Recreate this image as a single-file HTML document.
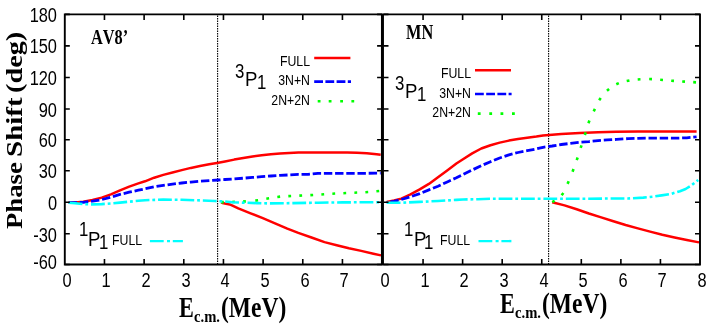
<!DOCTYPE html>
<html><head><meta charset="utf-8"><title>Phase Shift</title>
<style>html,body{margin:0;padding:0;background:#fff;}
#c{position:relative;width:708px;height:327px;overflow:hidden;background:#fff;}
#c svg{position:absolute;left:0;top:0;display:block;}
.t{position:absolute;white-space:nowrap;line-height:1;color:#000;font-kerning:none;font-variant-ligatures:none;}
#tx{position:absolute;left:0;top:0;width:708px;height:327px;filter:grayscale(1);}
.sa{font-family:"Liberation Sans",sans-serif;}
.se{font-family:"Liberation Serif",serif;font-weight:bold;}</style></head>
<body><div id="c"><svg width="708" height="327" viewBox="0 0 708 327"><path d="M217.6,15.4V264.5 M548.6,15.4V264.5" stroke="#000" stroke-width="1.1" stroke-dasharray="1.5 1.0" fill="none"/>
<path d="M68.7,202.6 L75.0,202.4 L83.3,201.8 L92.5,200.0 L101.7,197.6 L110.9,194.4 L120.0,190.4 L129.2,186.6 L138.4,183.4 L145.0,181.3 L154.2,177.7 L163.3,174.9 L172.5,172.5 L181.7,170.1 L190.9,167.9 L200.0,166.1 L209.2,164.3 L218.4,162.8 L225.0,161.5 L234.2,159.6 L243.3,158.0 L252.5,156.5 L261.7,155.2 L270.9,154.3 L280.0,153.6 L289.2,153.0 L298.4,152.6 L308.1,152.5 L317.9,152.5 L327.6,152.5 L337.4,152.5 L347.2,152.5 L357.0,152.8 L366.8,153.2 L376.6,154.2 L380.7,154.7" fill="none" stroke="#ff0000" stroke-width="2.5" stroke-linejoin="round"/>
<path d="M221.0,202.4 L222.4,202.9 L229.8,204.4 L238.3,208.4 L250.6,213.3 L262.8,218.2 L275.0,223.4 L287.3,228.6 L298.3,232.9 L312.2,237.8 L324.5,242.1 L336.7,245.2 L348.9,248.2 L361.2,250.9 L373.4,253.7 L381.0,255.4" fill="none" stroke="#ff0000" stroke-width="2.5" stroke-linejoin="round"/>
<path d="M386.7,201.9 L394.0,200.5 L401.3,198.6 L410.5,194.4 L419.7,189.4 L428.9,183.9 L438.0,177.2 L447.2,170.4 L456.4,163.5 L463.0,159.2 L472.2,153.4 L481.3,148.5 L490.5,145.2 L499.7,142.6 L508.9,140.6 L518.0,138.9 L527.2,137.7 L536.4,136.6 L543.0,135.5 L561.3,133.9 L579.7,132.9 L598.0,132.2 L616.4,131.7 L637.9,131.4 L662.3,131.4 L696.6,131.4" fill="none" stroke="#ff0000" stroke-width="2.5" stroke-linejoin="round"/>
<path d="M552.2,202.2 L564.5,205.4 L576.7,209.3 L588.9,213.5 L601.2,217.4 L613.4,221.3 L625.6,225.0 L637.9,228.4 L650.1,231.6 L662.3,234.8 L674.6,237.5 L686.8,239.9 L699.0,242.4" fill="none" stroke="#ff0000" stroke-width="2.5" stroke-linejoin="round"/>
<path d="M68.7,202.6 L75.0,202.6 L83.3,202.3 L92.5,201.2 L101.7,199.6 L110.9,197.2 L120.0,194.4 L129.2,192.2 L138.4,190.2 L145.0,188.8 L154.2,186.8 L163.3,185.4 L172.5,184.1 L181.7,183.0 L190.9,182.1 L200.0,181.3 L209.2,180.6 L218.4,180.0 L225.0,179.5 L234.2,178.9 L243.3,178.2 L252.5,177.4 L261.7,176.7 L270.9,176.0 L280.0,175.4 L289.2,174.9 L298.4,174.4 L308.1,174.3 L317.9,173.3 L327.6,173.3 L337.4,173.3 L347.2,173.3 L357.0,173.3 L366.8,173.3 L380.7,173.1" fill="none" stroke="#0000ff" stroke-width="2.8" stroke-dasharray="8.4 2.8" stroke-dashoffset="0" stroke-linejoin="round"/>
<path d="M386.7,202.3 L394.0,201.4 L401.3,199.5 L410.5,196.8 L419.7,193.6 L428.9,189.9 L438.0,186.2 L447.2,181.9 L456.4,177.8 L463.0,174.6 L472.2,170.0 L481.3,165.7 L490.5,161.7 L499.7,158.0 L508.9,154.9 L518.0,152.5 L527.2,150.7 L536.4,148.9 L543.0,147.3 L552.2,146.0 L561.3,144.5 L570.5,143.4 L579.7,142.3 L588.9,141.6 L598.0,140.6 L607.2,139.9 L616.4,139.4 L628.1,138.6 L637.9,138.3 L647.6,138.1 L657.4,138.1 L667.2,138.1 L677.0,138.1 L686.8,137.8 L696.6,136.9" fill="none" stroke="#0000ff" stroke-width="2.8" stroke-dasharray="8.4 2.8" stroke-dashoffset="7.5" stroke-linejoin="round"/>
<g fill="#00ff00"><path d="M221.05,202.20L223.85,202.14 M232.06,201.97L234.85,201.88 M243.07,201.53L245.86,201.35 M255.31,200.63L258.09,200.28 M266.33,198.73L269.09,198.27 M277.32,196.94L280.11,196.63 M288.33,196.13L291.12,195.98 M299.34,195.63L302.13,195.50 M310.35,195.15L313.14,195.00 M321.36,194.44L324.15,194.25 M332.36,193.69L335.16,193.53 M343.37,193.18L346.17,193.06 M354.38,192.69L357.18,192.57 M365.39,192.23L368.19,192.05 M376.40,191.29L379.19,191.04" fill="none" stroke="#00ff00" stroke-width="2.6"/><path d="M552.37,202.32L554.54,200.56 M561.65,195.20L563.37,192.99 M567.57,183.88L568.70,181.32 M572.53,171.68L573.53,169.06 M576.74,160.19L577.64,157.54 M580.67,147.97L581.53,145.30 M584.84,135.00L585.68,132.33 M588.43,123.20L589.43,120.59 M593.70,111.41L594.92,108.89 M599.16,100.30L600.72,97.98 M606.96,90.77L609.07,88.93 M616.28,84.31L618.83,83.16 M626.70,81.08L629.44,80.51 M637.69,79.43L640.48,79.22 M649.18,79.05L651.98,79.11 M660.19,79.71L662.99,79.93 M671.20,80.69L674.00,80.90 M682.21,81.44L685.01,81.62 M693.22,82.17L696.01,82.36" fill="none" stroke="#00ff00" stroke-width="2.6"/></g>
<path d="M68.7,202.7 L75.0,203.3 L83.3,204.1 L92.5,204.4 L101.7,204.1 L110.9,203.5 L120.0,202.6 L129.2,201.7 L138.4,200.8 L145.0,200.2 L163.3,199.6 L181.7,199.8 L200.0,200.4 L214.7,201.0 L225.0,201.5 L232.2,202.2 L244.5,202.7 L256.7,203.1 L268.9,203.4 L293.4,203.1 L317.9,202.7 L342.3,202.4 L366.8,202.2 L380.7,202.2" fill="none" stroke="#00ffff" stroke-width="2.6" stroke-dasharray="13.8 2.9 2.8 2.9" stroke-dashoffset="0" stroke-linejoin="round"/>
<path d="M386.7,202.8 L401.3,202.7 L419.7,201.9 L438.0,201.0 L456.4,199.9 L463.0,199.5 L477.9,199.2 L490.1,198.7 L502.3,198.7 L514.6,198.7 L526.8,198.7 L540.0,198.7 L564.5,198.7 L588.9,198.7 L613.4,198.5 L627.8,198.5 L643.3,197.6 L652.5,196.7 L661.7,195.4 L670.9,193.9 L680.0,191.2 L685.6,189.0 L691.1,185.7 L695.6,182.0 L698.2,179.9" fill="none" stroke="#00ffff" stroke-width="2.6" stroke-dasharray="13.8 2.9 2.8 2.9" stroke-dashoffset="0" stroke-linejoin="round"/>
<path d="M64.8,14.4H700.0V264.5H64.8Z" fill="none" stroke="#000" stroke-width="1.9"/>
<path d="M382.45,14.4V264.5" fill="none" stroke="#000" stroke-width="3.0"/>
<path d="M104.46,264.5v-5.5 M104.46,14.4v5.5 M144.12,264.5v-5.5 M144.12,14.4v5.5 M183.79,264.5v-5.5 M183.79,14.4v5.5 M223.45,264.5v-5.5 M223.45,14.4v5.5 M263.11,264.5v-5.5 M263.11,14.4v5.5 M302.78,264.5v-5.5 M302.78,14.4v5.5 M342.44,264.5v-5.5 M342.44,14.4v5.5 M64.80,14.40h5.0 M382.10,14.40h-5.0 M64.80,45.90h5.0 M382.10,45.90h-5.0 M64.80,77.50h5.0 M382.10,77.50h-5.0 M64.80,109.00h5.0 M382.10,109.00h-5.0 M64.80,139.80h5.0 M382.10,139.80h-5.0 M64.80,170.80h5.0 M382.10,170.80h-5.0 M64.80,202.20h5.0 M382.10,202.20h-5.0 M64.80,233.80h5.0 M382.10,233.80h-5.0 M64.80,264.50h5.0 M382.10,264.50h-5.0 M423.06,264.5v-5.5 M423.06,14.4v5.5 M462.62,264.5v-5.5 M462.62,14.4v5.5 M502.19,264.5v-5.5 M502.19,14.4v5.5 M541.75,264.5v-5.5 M541.75,14.4v5.5 M581.31,264.5v-5.5 M581.31,14.4v5.5 M620.88,264.5v-5.5 M620.88,14.4v5.5 M660.44,264.5v-5.5 M660.44,14.4v5.5 M383.50,14.40h5.0 M700.00,14.40h-5.0 M383.50,45.90h5.0 M700.00,45.90h-5.0 M383.50,77.50h5.0 M700.00,77.50h-5.0 M383.50,109.00h5.0 M700.00,109.00h-5.0 M383.50,139.80h5.0 M700.00,139.80h-5.0 M383.50,170.80h5.0 M700.00,170.80h-5.0 M383.50,202.20h5.0 M700.00,202.20h-5.0 M383.50,233.80h5.0 M700.00,233.80h-5.0 M383.50,264.50h5.0 M700.00,264.50h-5.0" fill="none" stroke="#000" stroke-width="1.6"/>
<path d="M314.2,57.9H350.4" stroke="#ff0000" stroke-width="2.5"/><path d="M314.2,81.6H351.0" stroke="#0000ff" stroke-width="2.6" stroke-dasharray="8.8 2.4"/><g fill="#00ff00"><path d="M317.70,101.20L320.50,101.20 M328.70,101.20L331.50,101.20 M340.20,101.20L343.00,101.20 M351.40,101.20L354.20,101.20" fill="none" stroke="#00ff00" stroke-width="2.6"/></g>
<path d="M475,70.3H511" stroke="#ff0000" stroke-width="2.5"/><path d="M475,94.0H511.6" stroke="#0000ff" stroke-width="2.6" stroke-dasharray="8.8 2.4"/><g fill="#00ff00"><path d="M477.80,113.60L480.60,113.60 M489.30,113.60L492.10,113.60 M500.50,113.60L503.30,113.60 M512.00,113.60L514.80,113.60" fill="none" stroke="#00ff00" stroke-width="2.6"/></g>
<path d="M149.9,241.1H182.9" stroke="#00ffff" stroke-width="2.4" stroke-dasharray="13.8 3.3 3 2.8"/>
<path d="M478.5,241.1H511.4" stroke="#00ffff" stroke-width="2.4" stroke-dasharray="13.8 3.3 3 2.8"/></svg>
<div id="tx"><span class="t sa" style="left:57.00px;top:4.95px;font-size:20.5px;transform-origin:100% 0;transform:translateX(-100%) scaleX(0.8);">180</span>
<span class="t sa" style="left:57.00px;top:36.45px;font-size:20.5px;transform-origin:100% 0;transform:translateX(-100%) scaleX(0.8);">150</span>
<span class="t sa" style="left:57.00px;top:68.05px;font-size:20.5px;transform-origin:100% 0;transform:translateX(-100%) scaleX(0.8);">120</span>
<span class="t sa" style="left:57.00px;top:99.55px;font-size:20.5px;transform-origin:100% 0;transform:translateX(-100%) scaleX(0.8);">90</span>
<span class="t sa" style="left:57.00px;top:130.35px;font-size:20.5px;transform-origin:100% 0;transform:translateX(-100%) scaleX(0.8);">60</span>
<span class="t sa" style="left:57.00px;top:161.35px;font-size:20.5px;transform-origin:100% 0;transform:translateX(-100%) scaleX(0.8);">30</span>
<span class="t sa" style="left:57.00px;top:193.05px;font-size:20.5px;transform-origin:100% 0;transform:translateX(-100%) scaleX(0.8);">0</span>
<span class="t sa" style="left:57.00px;top:224.85px;font-size:20.5px;transform-origin:100% 0;transform:translateX(-100%) scaleX(0.8);">-30</span>
<span class="t sa" style="left:57.00px;top:252.05px;font-size:20.5px;transform-origin:100% 0;transform:translateX(-100%) scaleX(0.8);">-60</span>
<span class="t sa" style="left:66.60px;top:270.37px;font-size:20px;transform-origin:50% 0;transform:translateX(-50%) scaleX(0.82);">0</span>
<span class="t sa" style="left:106.30px;top:270.37px;font-size:20px;transform-origin:50% 0;transform:translateX(-50%) scaleX(0.82);">1</span>
<span class="t sa" style="left:145.90px;top:270.37px;font-size:20px;transform-origin:50% 0;transform:translateX(-50%) scaleX(0.82);">2</span>
<span class="t sa" style="left:185.60px;top:270.37px;font-size:20px;transform-origin:50% 0;transform:translateX(-50%) scaleX(0.82);">3</span>
<span class="t sa" style="left:225.20px;top:270.37px;font-size:20px;transform-origin:50% 0;transform:translateX(-50%) scaleX(0.82);">4</span>
<span class="t sa" style="left:264.90px;top:270.37px;font-size:20px;transform-origin:50% 0;transform:translateX(-50%) scaleX(0.82);">5</span>
<span class="t sa" style="left:304.60px;top:270.37px;font-size:20px;transform-origin:50% 0;transform:translateX(-50%) scaleX(0.82);">6</span>
<span class="t sa" style="left:344.20px;top:270.37px;font-size:20px;transform-origin:50% 0;transform:translateX(-50%) scaleX(0.82);">7</span>
<span class="t sa" style="left:385.30px;top:270.37px;font-size:20px;transform-origin:50% 0;transform:translateX(-50%) scaleX(0.82);">0</span>
<span class="t sa" style="left:424.90px;top:270.37px;font-size:20px;transform-origin:50% 0;transform:translateX(-50%) scaleX(0.82);">1</span>
<span class="t sa" style="left:464.40px;top:270.37px;font-size:20px;transform-origin:50% 0;transform:translateX(-50%) scaleX(0.82);">2</span>
<span class="t sa" style="left:504.00px;top:270.37px;font-size:20px;transform-origin:50% 0;transform:translateX(-50%) scaleX(0.82);">3</span>
<span class="t sa" style="left:543.50px;top:270.37px;font-size:20px;transform-origin:50% 0;transform:translateX(-50%) scaleX(0.82);">4</span>
<span class="t sa" style="left:583.10px;top:270.37px;font-size:20px;transform-origin:50% 0;transform:translateX(-50%) scaleX(0.82);">5</span>
<span class="t sa" style="left:622.70px;top:270.37px;font-size:20px;transform-origin:50% 0;transform:translateX(-50%) scaleX(0.82);">6</span>
<span class="t sa" style="left:662.20px;top:270.37px;font-size:20px;transform-origin:50% 0;transform:translateX(-50%) scaleX(0.82);">7</span>
<span class="t sa" style="left:701.80px;top:270.37px;font-size:20px;transform-origin:50% 0;transform:translateX(-50%) scaleX(0.82);">8</span>
<span class="t se" style="left:91.00px;top:26.81px;font-size:20.4px;transform-origin:0 0;transform:scaleX(0.8);">AV8’</span>
<span class="t se" style="left:406.00px;top:21.91px;font-size:20.4px;transform-origin:0 0;transform:scaleX(0.8);">MN</span>
<span class="t se" style="left:22.6px;top:228.6px;font-size:28.3px;transform-origin:0 0;transform:rotate(-90deg) scale(0.945,0.85) translateY(-83.75%)">Phase</span>
<span class="t se" style="left:22.6px;top:156.9px;font-size:28.3px;transform-origin:0 0;transform:rotate(-90deg) scale(1.025,0.85) translateY(-83.75%)">Shift</span>
<span class="t se" style="left:22.6px;top:92.7px;font-size:28.3px;transform-origin:0 0;transform:rotate(-90deg) scale(1.0,0.85) translateY(-83.75%)">(deg)</span>
<span class="t se" style="left:179.00px;top:293.73px;font-size:28.5px;transform-origin:0 0;transform:scaleX(0.78);">E</span>
<span class="t se" style="left:194.40px;top:308.26px;font-size:17px;transform-origin:0 0;transform:scaleX(0.86);">c.m.</span>
<span class="t se" style="left:220.80px;top:293.73px;font-size:28.5px;transform-origin:0 0;transform:scaleX(0.825);">(MeV)</span>
<span class="t se" style="left:500.00px;top:289.73px;font-size:28.5px;transform-origin:0 0;transform:scaleX(0.78);">E</span>
<span class="t se" style="left:515.40px;top:304.26px;font-size:17px;transform-origin:0 0;transform:scaleX(0.86);">c.m.</span>
<span class="t se" style="left:541.80px;top:289.73px;font-size:28.5px;transform-origin:0 0;transform:scaleX(0.825);">(MeV)</span>
<span class="t sa" style="left:235.10px;top:61.05px;font-size:20.5px;transform-origin:0 0;transform:scaleX(0.82);">3</span>
<span class="t sa" style="left:245.10px;top:69.17px;font-size:20px;transform-origin:0 0;transform:scaleX(0.93);">P</span>
<span class="t sa" style="left:257.20px;top:71.75px;font-size:20.5px;transform-origin:0 0;transform:scaleX(0.82);">1</span>
<span class="t sa" style="left:309.60px;top:52.80px;font-size:15px;transform-origin:100% 0;transform:translateX(-100%) scaleX(0.82);">FULL</span>
<span class="t sa" style="left:309.60px;top:72.40px;font-size:15px;transform-origin:100% 0;transform:translateX(-100%) scaleX(0.82);">3N+N</span>
<span class="t sa" style="left:309.60px;top:91.70px;font-size:15px;transform-origin:100% 0;transform:translateX(-100%) scaleX(0.82);">2N+2N</span>
<span class="t sa" style="left:394.90px;top:73.25px;font-size:20.5px;transform-origin:0 0;transform:scaleX(0.82);">3</span>
<span class="t sa" style="left:404.90px;top:81.37px;font-size:20px;transform-origin:0 0;transform:scaleX(0.93);">P</span>
<span class="t sa" style="left:417.00px;top:83.95px;font-size:20.5px;transform-origin:0 0;transform:scaleX(0.82);">1</span>
<span class="t sa" style="left:470.80px;top:65.20px;font-size:15px;transform-origin:100% 0;transform:translateX(-100%) scaleX(0.82);">FULL</span>
<span class="t sa" style="left:470.80px;top:84.80px;font-size:15px;transform-origin:100% 0;transform:translateX(-100%) scaleX(0.82);">3N+N</span>
<span class="t sa" style="left:470.80px;top:104.10px;font-size:15px;transform-origin:100% 0;transform:translateX(-100%) scaleX(0.82);">2N+2N</span>
<span class="t sa" style="left:78.50px;top:219.35px;font-size:20.5px;transform-origin:0 0;transform:scaleX(0.82);">1</span>
<span class="t sa" style="left:88.30px;top:228.97px;font-size:20px;transform-origin:0 0;transform:scaleX(0.93);">P</span>
<span class="t sa" style="left:99.10px;top:231.75px;font-size:20.5px;transform-origin:0 0;transform:scaleX(0.82);">1</span>
<span class="t sa" style="left:111.60px;top:232.40px;font-size:15px;transform-origin:0 0;transform:scaleX(0.82);">FULL</span>
<span class="t sa" style="left:403.70px;top:219.35px;font-size:20.5px;transform-origin:0 0;transform:scaleX(0.82);">1</span>
<span class="t sa" style="left:413.50px;top:228.97px;font-size:20px;transform-origin:0 0;transform:scaleX(0.93);">P</span>
<span class="t sa" style="left:424.30px;top:231.75px;font-size:20.5px;transform-origin:0 0;transform:scaleX(0.82);">1</span>
<span class="t sa" style="left:440.30px;top:232.40px;font-size:15px;transform-origin:0 0;transform:scaleX(0.82);">FULL</span></div>
</div></body></html>
